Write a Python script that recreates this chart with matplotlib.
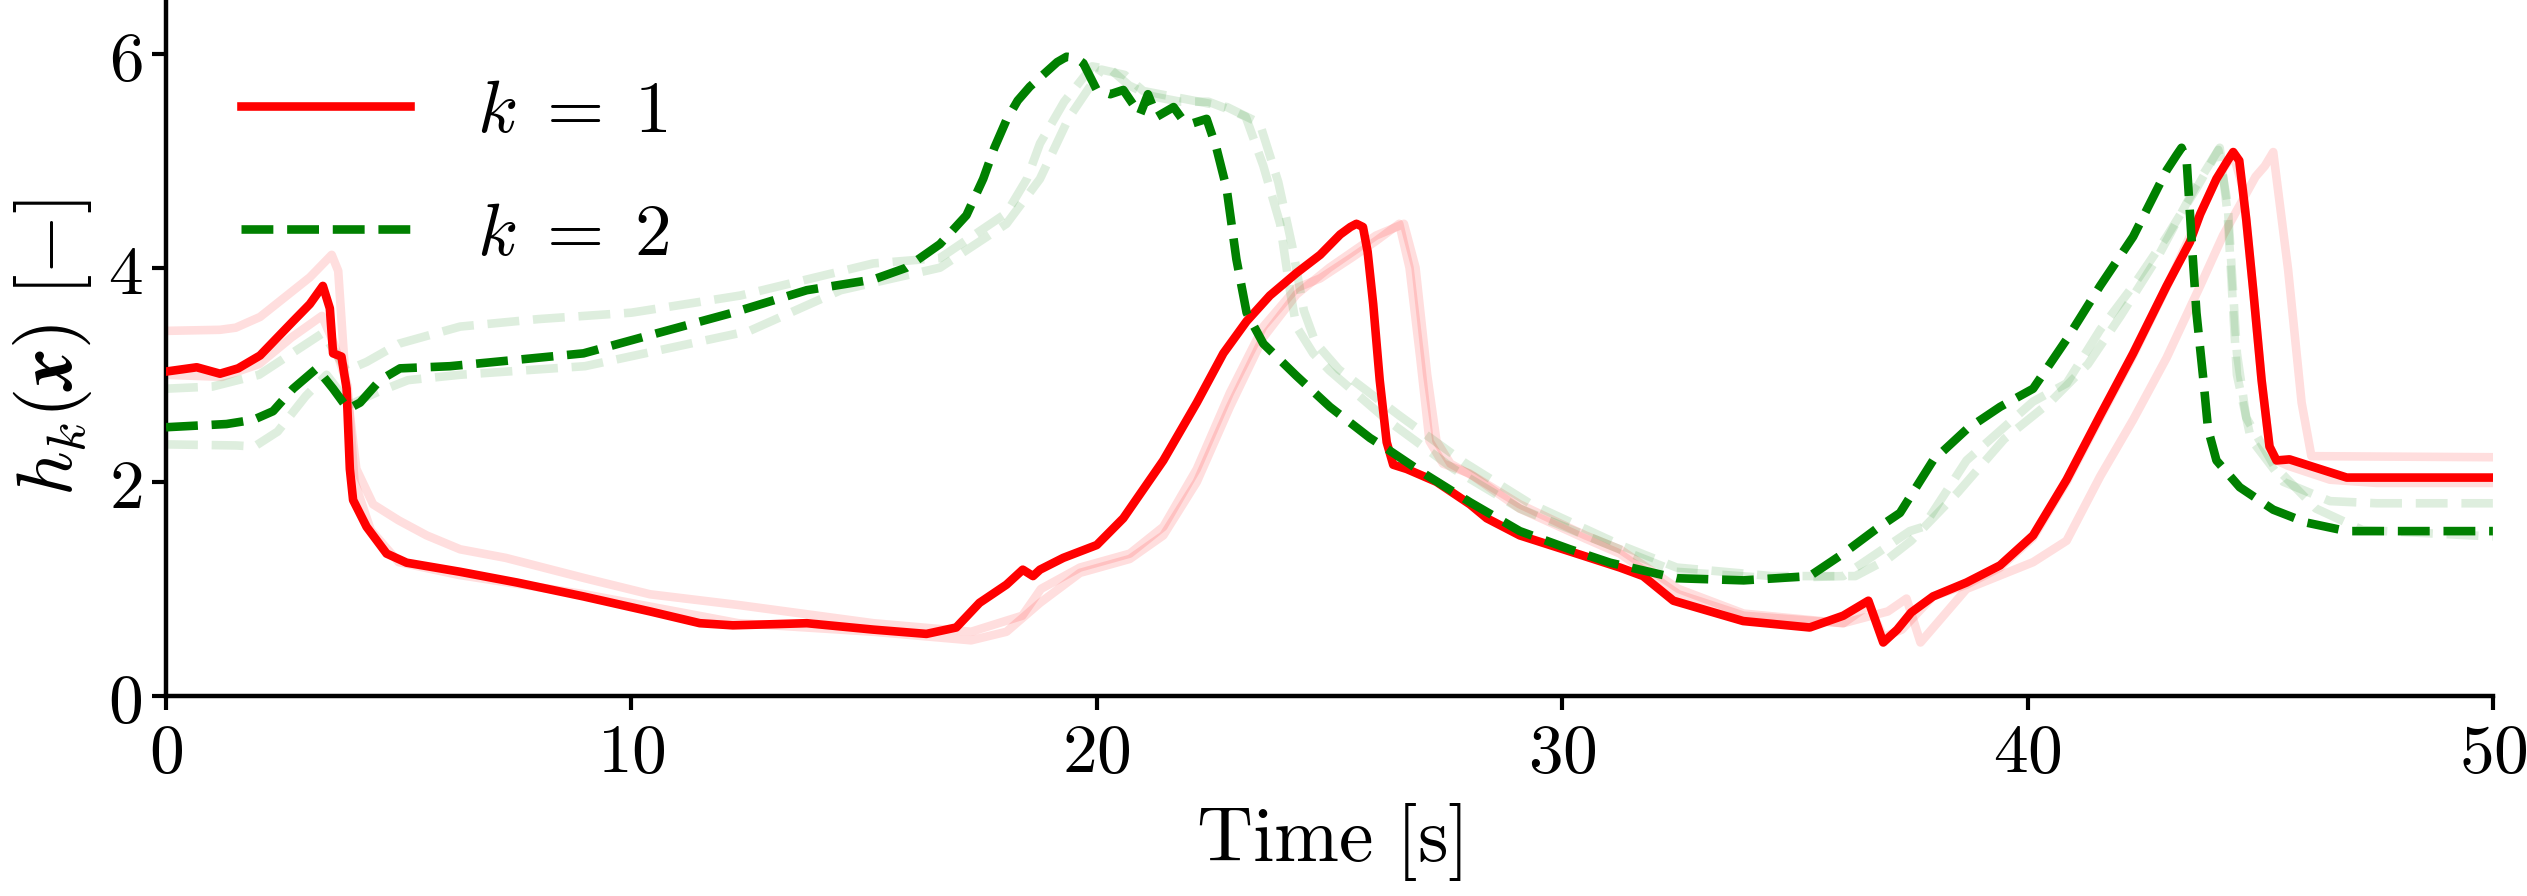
import numpy as np
import matplotlib
matplotlib.use("Agg")
import matplotlib.pyplot as plt

plt.rcParams['mathtext.fontset'] = 'cm'
plt.rcParams['font.family'] = 'serif'

# ---- main run, k = 1 (red, solid) ----
t_k1 = [0, 0.66, 1.16, 1.55, 2.02, 2.73, 3.09, 3.37, 3.52, 3.59, 3.77, 3.88, 3.95, 4.02,
        4.31, 4.74, 5.17, 6.32, 7.54, 8.97, 10.40, 11.47, 12.18, 13.0, 13.77, 15.2, 16.34,
        16.98, 17.48, 18.06, 18.41, 18.63, 18.78, 19.28, 20.0, 20.57, 21.43, 22.15, 22.72,
        23.22, 23.72, 24.29, 24.8, 25.23, 25.45, 25.58, 25.72, 25.82, 25.94, 26.08, 26.23,
        26.37, 26.66, 27.3, 28.02, 28.38, 29.09, 30.17, 31.24, 31.74, 32.39, 33.18, 33.89,
        35.32, 36.04, 36.58, 36.9, 37.2, 37.5, 37.97, 38.69, 39.41, 40.12, 40.84, 41.56,
        42.27, 42.99, 43.49, 43.71, 44.06, 44.3, 44.42, 44.55, 44.7, 44.85, 45.03, 45.2,
        45.35, 45.63, 46.86, 50]
h_k1 = [3.03, 3.07, 3.01, 3.06, 3.18, 3.50, 3.66, 3.83, 3.62, 3.20, 3.17, 2.87, 2.12, 1.83,
        1.58, 1.33, 1.245, 1.16, 1.06, 0.93, 0.79, 0.68, 0.66, 0.67, 0.68, 0.62, 0.58,
        0.64, 0.87, 1.04, 1.18, 1.12, 1.18, 1.29, 1.41, 1.66, 2.20, 2.74, 3.20,
        3.50, 3.74, 3.95, 4.12, 4.31, 4.38, 4.41, 4.38, 4.15, 3.66, 2.95, 2.37,
        2.16, 2.12, 2.00, 1.79, 1.66, 1.50, 1.35, 1.20, 1.12, 0.89, 0.79, 0.70,
        0.64, 0.75, 0.89, 0.50, 0.62, 0.78, 0.93, 1.06, 1.22, 1.50, 2.02, 2.62,
        3.20, 3.83, 4.24, 4.50, 4.83, 5.0, 5.08, 5.0, 4.45, 3.79, 2.95, 2.33,
        2.20, 2.21, 2.04, 2.04]

# ---- main run, k = 2 (green, dashed) ----
t_k2 = [0, 1.30, 1.88, 2.3, 2.73, 3.24, 3.59, 3.91, 4.17, 4.6, 5.03, 6.1, 7.54, 8.97,
        10.40, 12.18, 13.77, 15.2, 15.91, 16.63, 17.2, 17.56, 17.8, 18.06, 18.3, 18.56,
        18.92, 19.15, 19.35, 19.55, 19.71, 20.0, 20.29, 20.57, 20.93, 21.1, 21.29, 21.65,
        21.85, 22.07, 22.36, 22.57, 22.79, 23.0, 23.22, 23.58, 24.29, 25.01, 25.87, 26.23,
        26.95, 28.02, 29.09, 30.17, 31.03, 32.46, 33.9, 35.32, 36.04, 36.75, 37.26, 37.97,
        38.69, 39.41, 40.12, 40.84, 41.56, 42.27, 42.99, 43.2, 43.31, 43.42, 43.52, 43.63,
        43.78, 43.88, 44.06, 44.56, 45.28, 45.99, 46.86, 50]
h_k2 = [2.51, 2.54, 2.58, 2.66, 2.87, 3.06, 2.87, 2.68, 2.74, 2.95, 3.06, 3.08, 3.14, 3.20,
        3.37, 3.58, 3.79, 3.89, 4.00, 4.22, 4.49, 4.83, 5.12, 5.38, 5.56, 5.69,
        5.83, 5.92, 5.97, 5.96, 5.91, 5.66, 5.62, 5.66, 5.43, 5.62, 5.41, 5.50,
        5.38, 5.35, 5.39, 5.12, 4.74, 4.08, 3.58, 3.29, 2.99, 2.70, 2.41, 2.31,
        2.10, 1.81, 1.54, 1.37, 1.245, 1.10, 1.08, 1.12, 1.33, 1.56, 1.71, 2.20,
        2.49, 2.70, 2.87, 3.33, 3.83, 4.29, 4.91, 5.05, 5.12, 5.0, 4.3, 3.58,
        2.95, 2.49, 2.20, 1.95, 1.74, 1.62, 1.54, 1.54]

# ---- other runs (faint), k = 1 ----
t_k1_a = [0, 1.16, 1.5, 2.02, 3.09, 3.56, 3.7, 3.85, 4.09, 4.45, 5.0, 5.6, 6.32, 7.3, 9.0,
          10.4, 12.3, 15.2, 17.3, 18.4, 18.8, 19.64, 20.71, 21.43, 22.15, 22.86, 23.58,
          24.29, 24.8, 25.5, 26.0, 26.5, 26.72, 26.95, 27.15, 27.44, 28.0, 29.09, 30.5,
          31.24, 32.5, 33.9, 36.04, 37.0, 37.4, 37.7, 38.69, 40.12, 40.84, 41.56, 42.27,
          42.99, 43.71, 44.2, 44.9, 45.1, 45.28, 45.6, 45.89, 46.1, 50]
h_k1_a = [3.41, 3.42, 3.44, 3.54, 3.91, 4.12, 3.97, 3.0, 2.12, 1.79, 1.64, 1.50, 1.37, 1.29, 1.10,
          0.95, 0.85, 0.68, 0.60, 0.75, 1.0, 1.20, 1.33, 1.58, 2.12, 2.83, 3.45,
          3.81, 3.90, 4.10, 4.25, 4.41, 4.0, 3.16, 2.38, 2.17, 2.08, 1.79, 1.50,
          1.37, 1.0, 0.77, 0.68, 0.79, 0.91, 0.50, 1.0, 1.25, 1.45, 2.05, 2.58,
          3.16, 3.83, 4.3, 4.85, 4.95, 5.08, 3.98, 2.74, 2.24, 2.23]
t_k1_b = [0, 1.2, 2.0, 2.7, 3.35, 3.6, 3.9, 4.05, 4.4, 5.0, 6.3, 9.0, 12.3, 15.2, 17.3, 18.06,
          18.78, 19.64, 20.71, 21.43, 22.15, 22.86, 23.58, 24.29, 25.0, 25.5, 26.0, 26.6,
          26.85, 27.1, 27.3, 27.6, 28.1, 29.09, 30.5, 31.24, 32.5, 33.9, 36.04, 36.6, 36.9,
          37.3, 37.97, 38.69, 39.41, 40.12, 40.84, 41.56, 42.27, 42.99, 43.71, 44.06, 44.42,
          44.63, 44.85, 45.03, 45.2, 45.35, 45.6, 46.5, 47.5, 50]
h_k1_b = [3.0, 2.98, 3.1, 3.35, 3.55, 3.3, 2.9, 2.0, 1.55, 1.25, 1.13, 0.95, 0.68, 0.60, 0.52, 0.60,
          0.87, 1.15, 1.28, 1.50, 2.0, 2.70, 3.35, 3.75, 4.0, 4.15, 4.30, 4.41,
          4.0, 3.0, 2.38, 2.17, 2.05, 1.75, 1.47, 1.33, 0.95, 0.75, 0.68, 0.85, 0.55,
          0.62, 0.93, 1.04, 1.20, 1.48, 2.00, 2.60, 3.18, 3.82, 4.5, 4.83, 5.06,
          4.74, 3.79, 2.95, 2.33, 2.20, 2.15, 2.02, 1.99, 1.99]

# ---- other runs (faint), k = 2 ----
t_k2_a = [0, 1.0, 2.0, 3.37, 3.88, 4.31, 5.0, 6.32, 8.0, 10.0, 12.34, 15.2, 16.63, 18.06, 18.5,
          18.78, 19.3, 19.9, 20.3, 20.7, 21.2, 21.8, 22.4, 23.0, 23.2, 23.58, 23.94, 24.15,
          24.29, 24.65, 25.0, 26.23, 27.67, 29.09, 31.24, 32.46, 34.5, 36.04, 37.47, 37.76,
          38.69, 40.12, 40.84, 41.56, 42.27, 42.99, 43.63, 44.13, 44.3, 44.5, 44.8, 45.5,
          46.5, 47.5, 50]
h_k2_a = [2.87, 2.89, 3.0, 3.39, 3.04, 3.12, 3.29, 3.45, 3.52, 3.58, 3.74, 4.04, 4.09, 4.51, 4.83,
          5.16, 5.55, 5.88, 5.85, 5.70, 5.60, 5.55, 5.55, 5.45, 5.41, 4.95, 4.41, 3.79,
          3.45, 3.20, 3.04, 2.58, 2.12, 1.75, 1.37, 1.16, 1.10, 1.12, 1.54, 1.58,
          2.20, 2.75, 2.92, 3.42, 3.83, 4.29, 4.74, 5.12, 4.5, 3.0, 2.4, 2.0,
          1.82, 1.80, 1.80]
t_k2_b = [0, 1.5, 1.9, 2.4, 3.0, 3.45, 3.95, 4.5, 5.2, 6.32, 9.0, 12.54, 14.5, 16.63, 18.06,
          18.78, 19.4, 20.1, 20.6, 21.0, 21.6, 22.2, 22.8, 23.5, 23.9, 24.2, 24.45, 24.7,
          25.2, 26.5, 27.9, 29.3, 31.3, 32.46, 34.5, 36.3, 37.0, 37.5, 38.5, 39.5, 40.5,
          41.3, 42.0, 42.8, 43.6, 44.1, 44.3, 44.5, 44.7, 45.3, 46.2, 47.2, 50]
h_k2_b = [2.35, 2.34, 2.33, 2.47, 2.80, 3.0, 2.72, 2.83, 2.95, 3.00, 3.08, 3.41, 3.79, 4.0, 4.41,
          4.83, 5.4, 5.85, 5.80, 5.65, 5.60, 5.55, 5.50, 5.35, 4.8, 4.2, 3.6, 3.3,
          3.05, 2.62, 2.18, 1.80, 1.40, 1.20, 1.12, 1.12, 1.28, 1.45, 1.90, 2.40, 2.75,
          3.10, 3.55, 4.10, 4.75, 5.10, 4.6, 3.2, 2.6, 2.15, 1.75, 1.55, 1.49]

labels = [r'$k\;=\;1$', r'$k\;=\;2$']
xticks = [0, 10, 20, 30, 40, 50]
xticklabels = [r'$0$', r'$10$', r'$20$', r'$30$', r'$40$', r'$50$']
yticks = [0, 2, 4, 6]
yticklabels = [r'$0$', r'$2$', r'$4$', r'$6$']

fig = plt.figure(figsize=(25.27, 8.96), dpi=100)
ax = fig.add_axes([0.0657, 0.2232, 0.9208, 0.7768])

lw = 6.2
faint_alpha = 0.13
for t, h in [(t_k1_a, h_k1_a), (t_k1_b, h_k1_b)]:
    ax.plot(t, h, color='red', lw=lw, alpha=faint_alpha, zorder=1)
for t, h in [(t_k2_a, h_k2_a), (t_k2_b, h_k2_b)]:
    ax.plot(t, h, color='green', lw=lw, ls='--', alpha=faint_alpha, zorder=1)

ax.plot(t_k1, h_k1, color='red', lw=lw, label=labels[0], zorder=3)
ax.plot(t_k2, h_k2, color='green', lw=lw, ls='--', label=labels[1], zorder=3)

ax.set_xlim(0, 50)
ax.set_ylim(0, 6.5)
ax.set_xticks(xticks)
ax.set_xticklabels(xticklabels)
ax.set_yticks(yticks)
ax.set_yticklabels(yticklabels)
ax.tick_params(axis='both', labelsize=50, length=10, width=3, pad=7)

for s in ['top', 'right']:
    ax.spines[s].set_visible(False)
for s in ['left', 'bottom']:
    ax.spines[s].set_linewidth(3.2)

ax.set_xlabel(r'$\mathrm{Time}\ [\mathrm{s}]$', fontsize=56, labelpad=11)
ax.set_ylabel(r'$h_k(\boldsymbol{x})\ [-]$', fontsize=56, labelpad=10)

ax.legend(loc='upper left', frameon=False, fontsize=53, handlelength=2.3,
          handletextpad=0.9, labelspacing=0.68, borderaxespad=0.62)

fig.savefig('out.png', dpi=100)
